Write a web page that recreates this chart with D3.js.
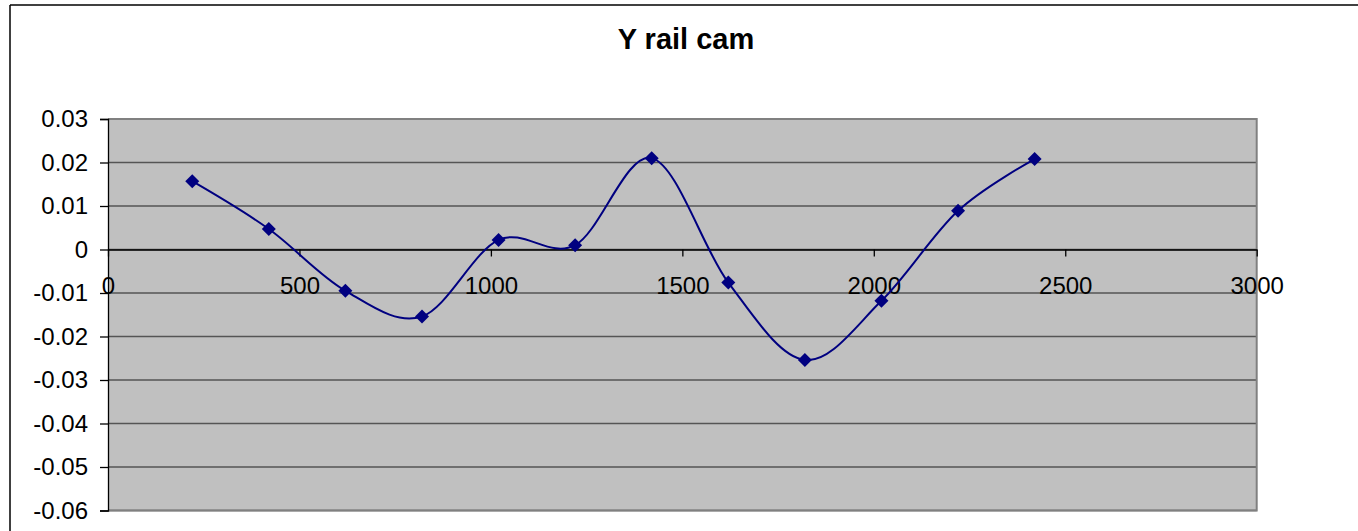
<!DOCTYPE html>
<html>
<head>
<meta charset="utf-8">
<script src="https://cdn.jsdelivr.net/npm/d3@7"></script>
<style>
  html, body { margin: 0; padding: 0; background: #fff; }
  svg { display: block; }
  text { font-family: "Liberation Sans", Arial, sans-serif; fill: #000; }
</style>
</head>
<body>
<svg id="chart" width="1358" height="531"></svg>
<script>
const title = "Y rail cam";
const xValues = [220, 420, 620, 820, 1020, 1220, 1420, 1620, 1820, 2020, 2220, 2420];
const yValues = [0.0157, 0.0047, -0.0095, -0.0154, 0.0022, 0.0010, 0.0210, -0.0076, -0.0254, -0.0118, 0.0089, 0.0208];
const xTicks = [0, 500, 1000, 1500, 2000, 2500, 3000];
const yTicks = [0.03, 0.02, 0.01, 0, -0.01, -0.02, -0.03, -0.04, -0.05, -0.06];

const W = 1358, H = 531;
const plot = { left: 108, top: 119, right: 1256.7, bottom: 510.5 };

const svg = d3.select("#chart");

// outer chart border (top & left visible)
svg.append("line").attr("x1", 10).attr("y1", 5).attr("x2", W).attr("y2", 5)
  .attr("stroke", "#000").attr("stroke-width", 1.5);
svg.append("line").attr("x1", 10).attr("y1", 5).attr("x2", 10).attr("y2", H)
  .attr("stroke", "#000").attr("stroke-width", 1.5);

// title
svg.append("text").attr("x", 686).attr("y", 49)
  .attr("text-anchor", "middle").attr("font-size", 29).attr("font-weight", "bold")
  .text(title);

const x = d3.scaleLinear().domain([0, 3000]).range([plot.left, plot.right]);
const y = d3.scaleLinear().domain([-0.06, 0.03]).range([plot.bottom, plot.top]);

// plot area background
svg.append("rect")
  .attr("x", plot.left).attr("y", plot.top)
  .attr("width", plot.right - plot.left).attr("height", plot.bottom - plot.top)
  .attr("fill", "#c0c0c0");

// gridlines
svg.append("g").selectAll("line").data(yTicks).join("line")
  .attr("x1", plot.left).attr("x2", plot.right)
  .attr("y1", d => y(d)).attr("y2", d => y(d))
  .attr("stroke", "#555").attr("stroke-width", 1.3);

// plot area border (top/right/bottom gray)
svg.append("path")
  .attr("d", `M${plot.left},${plot.top}H${plot.right}V${plot.bottom}H${plot.left}`)
  .attr("fill", "none").attr("stroke", "#808080").attr("stroke-width", 2);

// y axis
const yAxis = d3.axisLeft(y).tickValues(yTicks).tickSize(8).tickPadding(12)
  .tickFormat(d => d === 0 ? "0" : d3.format(".2f")(d).replace("−", "-"));
const gy = svg.append("g").attr("transform", `translate(${plot.left},0)`).call(yAxis);
gy.select(".domain").attr("stroke", "#000").attr("stroke-width", 1.3);
gy.selectAll(".tick line").attr("stroke", "#000").attr("stroke-width", 1.3);
gy.selectAll("text").attr("font-size", 24).attr("fill", "#000")
  .attr("font-family", "\"Liberation Sans\", Arial, sans-serif");

// x axis at y = 0
const xAxis = d3.axisBottom(x).tickValues(xTicks).tickSize(7).tickSizeOuter(0).tickPadding(20)
  .tickFormat(d3.format("d"));
const gx = svg.append("g").attr("transform", `translate(0,${y(0)})`).call(xAxis);
gx.select(".domain").attr("stroke", "#000").attr("stroke-width", 1.3);
gx.selectAll(".tick line").attr("stroke", "#000").attr("stroke-width", 1.3);
gx.selectAll("text").attr("font-size", 24).attr("fill", "#000")
  .attr("font-family", "\"Liberation Sans\", Arial, sans-serif");

// smoothed line
const data = xValues.map((v, i) => ({ x: v, y: yValues[i] }));
const line = d3.line().x(d => x(d.x)).y(d => y(d.y)).curve(d3.curveCardinal.tension(0));
svg.append("path").datum(data).attr("d", line)
  .attr("fill", "none").attr("stroke", "#000080").attr("stroke-width", 2);

// diamond markers
const r = 7;
svg.append("g").selectAll("path").data(data).join("path")
  .attr("d", d => {
    const cx = x(d.x), cy = y(d.y);
    return `M${cx},${cy - r}L${cx + r},${cy}L${cx},${cy + r}L${cx - r},${cy}Z`;
  })
  .attr("fill", "#000080");
</script>
</body>
</html>
